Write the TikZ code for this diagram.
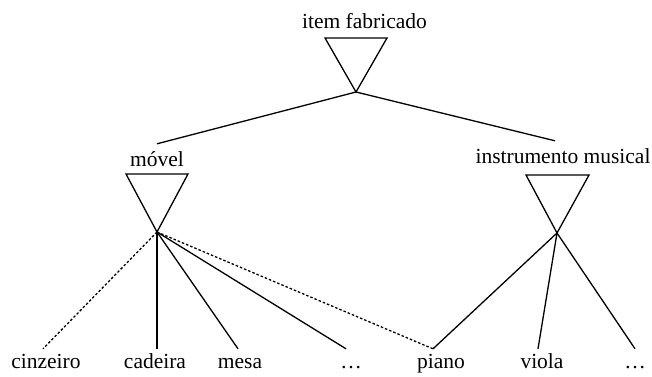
\documentclass[tikz,border=0pt]{standalone}
\usepackage{fontspec}
\setmainfont{Liberation Serif}

\begin{document}
\begin{tikzpicture}
    [ x=1pt, y=1pt,
      label/.style={anchor=base, inner sep=0pt, font=\fontsize{21.5}{25}\selectfont},
      kind/.style={label, text height=22pt},
      leaf/.style={label, text height=19pt},
      tri/.style={black, line width=1.3pt, line join=miter},
      link/.style={black, line width=1.3pt},
      dashedLink/.style={black, line width=1.3pt, dash pattern=on 2.5pt off 2pt}]

  \useasboundingbox (0,0) rectangle (652,376);

%%%%%%%%%%%%%%%%%%%%%%%%%%%%%%%%%%%%%%%%%%%%%%%%%%%%%%%%%%%%%%%%%%%%%%%%%%%%%%%%%%%%%%%%%%%%%%%%%%%%%%%%%%
%top level
	  \node[label] (item) at (364.5,348) {item fabricado};
	  \coordinate (itemTip) at (356,284);
	  \draw[tri] (325,338) -- (387,338) -- (itemTip) -- cycle;

%%%%%%%%%%%%%%%%%%%%%%%%%%%%%%%%%%%%%%%%%%%%%%%%%%%%%%%%%%%%%%%%%%%%%%%%%%%%%%%%%%%%%%%%%%%%%%%%%%%%%%%%%%
%second level
	  \node[kind] (movel) at (157,210) {móvel};
	  \coordinate (movelTip) at (157,144);
	  \draw[tri] (126,202) -- (188,202) -- (movelTip) -- cycle;

	  \node[kind] (instr) at (563,213) {instrumento musical};
	  \coordinate (instrTip) at (557,143);
	  \draw[tri] (526,201) -- (589,201) -- (instrTip) -- cycle;

	  \draw[link] (itemTip) -- (movel.north);
	  \draw[link] (itemTip) -- ([xshift=-8pt]instr.north);

%%%%%%%%%%%%%%%%%%%%%%%%%%%%%%%%%%%%%%%%%%%%%%%%%%%%%%%%%%%%%%%%%%%%%%%%%%%%%%%%%%%%%%%%%%%%%%%%%%%%%%%%%%
%leaves
	  \node[leaf] (cinzeiro) at (46,8) {cinzeiro};
	  \node[leaf] (cadeira)  at (155,8) {cadeira};
	  \node[leaf] (mesa)     at (240,8) {mesa};
	  \node[leaf] (etcA)     at (351,8) {\dots};
	  \node[leaf] (piano)    at (441,8) {piano};
	  \node[leaf] (viola)    at (542,8) {viola};
	  \node[leaf] (etcB)     at (635,8) {\dots};

	  \draw[dashedLink] (movelTip) -- ([xshift=-3pt]cinzeiro.north);
	  \draw[link]       (movelTip) -- ([xshift=2pt]cadeira.north);
	  \draw[link]       (movelTip) -- ([xshift=-2pt]mesa.north);
	  \draw[link]       (movelTip) -- ([xshift=-5pt]etcA.north);
	  \draw[dashedLink] (movelTip) -- ([xshift=-8pt]piano.north);

	  \draw[link] (instrTip) -- ([xshift=-8pt]piano.north);
	  \draw[link] (instrTip) -- ([xshift=-4pt]viola.north);
	  \draw[link] (instrTip) -- (etcB.north);

\end{tikzpicture}
\end{document}
